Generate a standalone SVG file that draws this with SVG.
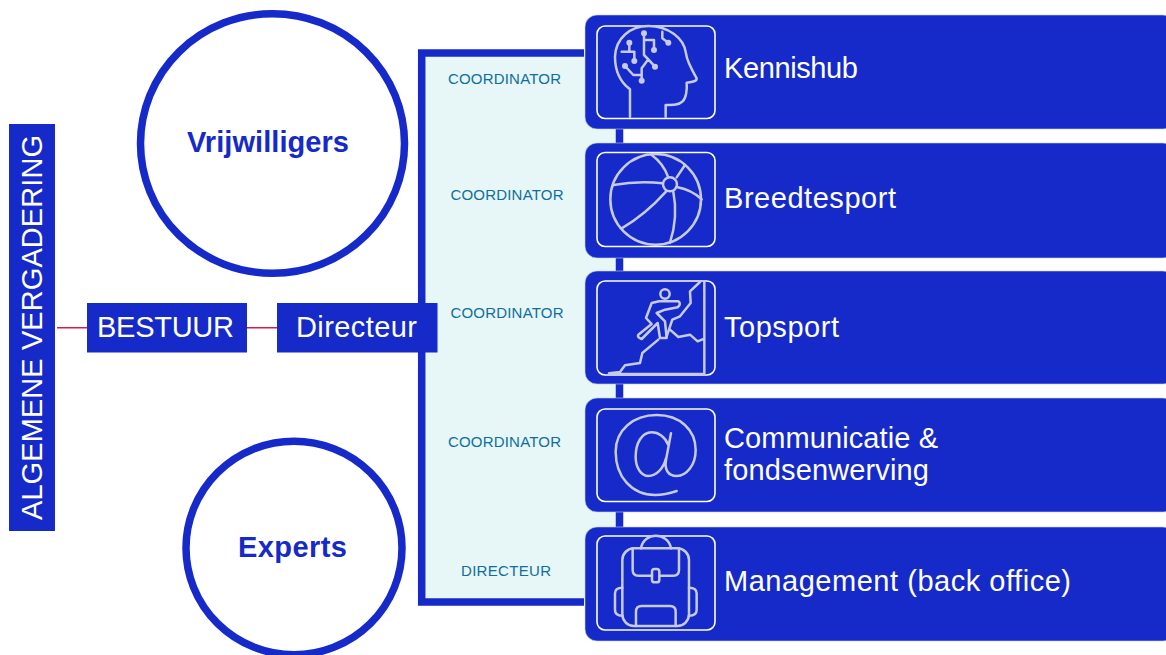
<svg xmlns="http://www.w3.org/2000/svg" width="1166" height="655" viewBox="0 0 1166 655">
<style>
text{font-family:"Liberation Sans",Arial,sans-serif}
.b{fill:#152ac8}
.card{fill:#152ac8;stroke:#c9cff0;stroke-width:.6}
.box{fill:none;stroke:#fff;stroke-width:1.6}
.w{fill:#fff;font-size:29px}
.c{fill:#0e6f9c;font-size:15px}
.ic{fill:none;stroke:#c5cbe8;stroke-width:7.500;stroke-linecap:round;stroke-linejoin:round}
.dot{fill:#c5cbe8}
.ring{fill:#fff;stroke:#152ac8;stroke-width:7.500}
.n{fill:#152ac8;font-size:29px;font-weight:bold}
</style>
<rect width="1166" height="655" fill="#fff"/>
<g id="connectors">
<rect x="421.700" y="53" width="197.800" height="549" fill="#e7f6f7"/>
<path d="M584 53H421.700V602H584" fill="none" stroke="#152ac8" stroke-width="7.500"/>
<path d="M619.500 120V530" fill="none" stroke="#152ac8" stroke-width="7.500"/>
<path d="M57 327.800H87M247 327.800H277" fill="none" stroke="#d8184e" stroke-width="1.600"/>
</g>
<g id="agv"><rect class="b" x="9" y="124" width="46" height="407"/><text class="w" transform="translate(41.500 520) rotate(-90)" textLength="385">ALGEMENE VERGADERING</text></g>
<g id="bestuur"><rect class="b" x="87" y="303" width="160" height="49.500"/><text class="w" x="97" y="337" textLength="137">BESTUUR</text></g>
<g id="directeur"><rect class="b" x="277" y="303" width="160.500" height="49.500"/><text class="w" x="296" y="337" textLength="121">Directeur</text></g>
<g id="vrijwilligers"><ellipse class="ring" cx="272.500" cy="143.500" rx="132" ry="129.800"/><text class="n" x="187" y="152" textLength="162">Vrijwilligers</text></g>
<g id="experts"><ellipse class="ring" cx="294" cy="548" rx="108" ry="106.800"/><text class="n" x="238" y="557" textLength="109">Experts</text></g>
<g id="coordinators">
<text class="c" x="448" y="84" textLength="113">COORDINATOR</text>
<text class="c" x="450.500" y="200" textLength="113">COORDINATOR</text>
<text class="c" x="450.500" y="318" textLength="113">COORDINATOR</text>
<text class="c" x="448" y="447" textLength="113">COORDINATOR</text>
<text class="c" x="461" y="576" textLength="90">DIRECTEUR</text>
</g>
<g id="kennishub">
<rect class="card" x="585" y="15" width="590" height="114" rx="12"/><rect class="box" x="597" y="26" width="118" height="92.500" rx="8"/>
<g transform="translate(585 10) scale(.3333)">
<path class="ic" d="M135 320V238C105 215 90 180 90 140C92 85 135 48 190 48C250 48 298 85 303 130C305 150 318 175 335 205C336 213 325 216 305 218C307 240 303 265 292 275C282 285 265 285 242 285V320"/>
<path class="ic" d="M177 70V135L190 148L210 170M177 90H207V120M133 98V125M110 125H148V153M190 148L170 175V212M120 168L145 195H170M232 65V85L250 98"/>
<circle class="dot" cx="177" cy="70" r="9"/><circle class="dot" cx="207" cy="120" r="9"/><circle class="dot" cx="133" cy="98" r="9"/><circle class="dot" cx="148" cy="153" r="9"/><circle class="dot" cx="210" cy="170" r="9"/><circle class="dot" cx="170" cy="212" r="9"/><circle class="dot" cx="120" cy="168" r="9"/><circle class="dot" cx="250" cy="98" r="9"/>
</g>
<text class="w" x="724" y="78" textLength="134">Kennishub</text>
</g>
<g id="breedtesport">
<rect class="card" x="585" y="143" width="590" height="115" rx="12"/><rect class="box" x="597" y="152.500" width="118" height="94" rx="8"/>
<g transform="translate(585 140) scale(.3333)">
<circle class="ic" cx="212" cy="178" r="136"/><circle class="ic" cx="255" cy="133" r="21"/>
<path class="ic" d="M85 135Q160 122 233 130M200 45Q235 70 250 112M300 75L275 112M278 142Q320 150 350 178M243 155Q180 225 110 265M265 155Q280 230 255 308"/>
</g>
<text class="w" x="724" y="208" textLength="172">Breedtesport</text>
</g>
<g id="topsport">
<rect class="card" x="585" y="271" width="590" height="113" rx="12"/><rect class="box" x="597" y="281" width="118" height="94" rx="8"/>
<g transform="translate(585 268) scale(.3333)">
<circle class="ic" cx="240" cy="78" r="14"/>
<path class="ic" d="M358 40V318M72 318H358M72 316L105 312L120 292L165 285L172 255L220 215M255 185L280 207L315 200L338 220L358 212M345 42L315 70L317 105L285 145L262 155L245 205"/>
<path class="ic" d="M222 100H280Q290 108 278 118L240 125L215 135L240 160L245 210H225L218 165L170 213Q155 208 160 200L200 168L183 150L200 105L222 100"/>
</g>
<text class="w" x="724" y="337" textLength="115">Topsport</text>
</g>
<g id="communicatie">
<rect class="card" x="585" y="398" width="590" height="114" rx="12"/><rect class="box" x="597" y="409" width="118" height="92.500" rx="8"/>
<g transform="translate(585 395) scale(.3333)">
<path class="ic" d="M275 288Q240 300 210 300C140 300 92 245 92 170C92 105 145 60 215 60C285 60 332 105 332 165C332 210 305 243 275 243C250 243 238 225 243 195L258 115M250 150C240 125 220 112 200 112C170 112 152 145 152 185C152 220 170 243 190 243C215 243 235 220 243 190"/>
</g>
<text class="w" x="724" y="448" textLength="214">Communicatie &amp;</text>
<text class="w" x="724" y="480" textLength="205">fondsenwerving</text>
</g>
<g id="management">
<rect class="card" x="585" y="527" width="590" height="114" rx="12"/><rect class="box" x="597" y="536" width="118" height="94" rx="8"/>
<g transform="translate(585 520) scale(.3333)">
<path class="ic" d="M168 85C175 35 250 35 258 85"/><rect class="ic" x="112" y="85" width="200" height="233" rx="35"/>
<path class="ic" d="M143 85V150Q143 167 160 167H201M223 167H265Q282 167 282 150V85M153 318V275Q153 258 170 258H255Q272 258 272 275V318M112 203Q90 203 90 220V270Q90 287 112 287M312 203Q335 203 335 220V270Q335 287 312 287"/>
<rect class="ic" x="201" y="147" width="22" height="40" rx="8"/>
</g>
<text class="w" x="724" y="591" textLength="347">Management (back office)</text>
</g>
</svg>
